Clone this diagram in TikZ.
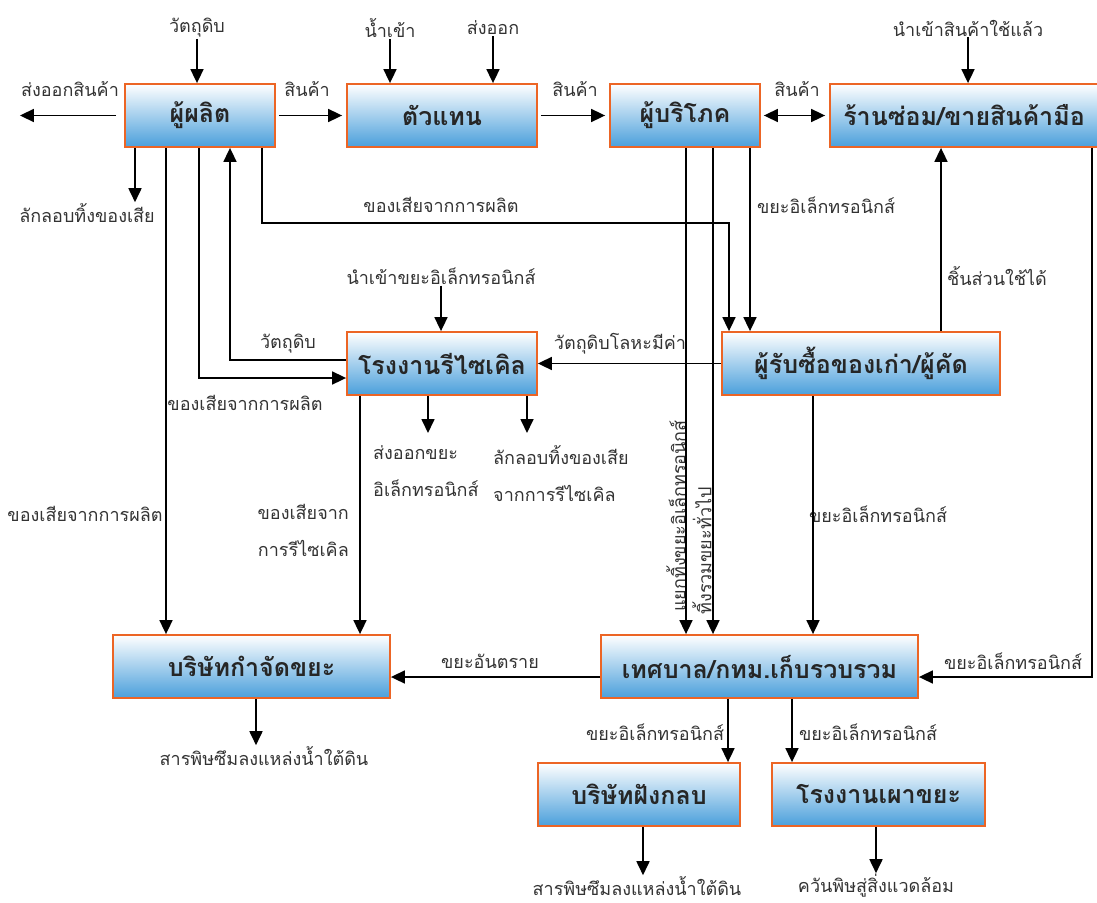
\documentclass[tikz,border=0pt]{standalone}
\usepackage{fontspec}
\setmainfont[Script=Thai]{Loma}
\usetikzlibrary{arrows.meta}

\definecolor{boxline}{HTML}{EC6525}
\definecolor{boxblue}{HTML}{4A9FDB}
\definecolor{labtext}{HTML}{333333}

\tikzset{
  box/.style={draw=boxline, line width=1.8pt, top color=white, bottom color=boxblue,
    minimum height=63pt, inner sep=0pt, text=black!85,
    font=\fontsize{25}{29}\selectfont\bfseries},
  lab/.style={font=\fontsize{18}{37}\selectfont, text=labtext, inner sep=1pt},
  arr/.style={line width=1.7pt, -{Triangle[length=14pt,width=13pt]}},
  darr/.style={line width=1.7pt, {Triangle[length=14pt,width=13pt]}-{Triangle[length=14pt,width=13pt]}},
}

\begin{document}
\begin{tikzpicture}[x=1pt,y=-1pt]
  \useasboundingbox (0,0) rectangle (1097,902);

  % 方框
  \node[box, minimum width=150pt] (prod)  at (200,115.5) {ผู้ผลิต};
  \node[box, minimum width=190pt] (agent) at (442,115.5) {ตัวแทน};
  \node[box, minimum width=150pt] (cons)  at (685,115.5) {ผู้บริโภค};
  \node[box, minimum width=268pt] (shop)  at (964,115.5) {ร้านซ่อม/ขายสินค้ามือ};
  \node[box, minimum width=190pt] (recyc) at (442,363.5) {โรงงานรีไซเคิล};
  \node[box, minimum width=278pt] (buyer) at (861,363.5) {ผู้รับซื้อของเก่า/ผู้คัด};
  \node[box, minimum width=277pt] (dispo) at (251.5,666.5) {บริษัทกำจัดขยะ};
  \node[box, minimum width=317pt] (muni)  at (759.5,666.5) {เทศบาล/กทม.เก็บรวบรวม};
  \node[box, minimum width=202pt] (landf) at (639,794.5) {บริษัทฝังกลบ};
  \node[box, minimum width=213pt] (incin) at (878.5,794.5) {โรงงานเผาขยะ};

  % 标签
  \node[lab] (lraw)   at (197,28) {วัตถุดิบ};
  \node[lab] (limp)   at (390,28) {น้ำเข้า};
  \node[lab] (lexp)   at (493,28) {ส่งออก};
  \node[lab] (lused)  at (968,28) {นำเข้าสินค้าใช้แล้ว};
  \node[lab] (lexpg)  at (70,89) {ส่งออกสินค้า};
  \node[lab] (lgood1) at (307,89) {สินค้า};
  \node[lab] (lgood2) at (575,89) {สินค้า};
  \node[lab] (lgood3) at (797,89) {สินค้า};
  \node[lab] (ldump)  at (87,213) {ลักลอบทิ้งของเสีย};
  \node[lab] (lwaste1) at (441,205) {ของเสียจากการผลิต};
  \node[lab] (lew1)   at (826,205) {ขยะอิเล็กทรอนิกส์};
  \node[lab] (limpe)  at (441,276) {นำเข้าขยะอิเล็กทรอนิกส์};
  \node[lab] (lpart)  at (997,276) {ชิ้นส่วนใช้ได้};
  \node[lab] (lraw2)  at (288,344) {วัตถุดิบ};
  \node[lab] (lmetal) at (620,344) {วัตถุดิบโลหะมีค่า};
  \node[lab] (lwaste2) at (245,403) {ของเสียจากการผลิต};
  \node[lab, align=left, anchor=north west] (lexpe) at (372,444) {ส่งออกขยะ\\อิเล็กทรอนิกส์};
  \node[lab, align=left, anchor=north west] (ldump2) at (492,444) {ลักลอบทิ้งของเสีย\\จากการรีไซเคิล};
  \node[lab] (lwaste3) at (85,514) {ของเสียจากการผลิต};
  \node[lab, align=right, anchor=north east] (lwaste4) at (350,503) {ของเสียจาก\\การรีไซเคิล};
  \node[lab] (lew2)   at (878,514) {ขยะอิเล็กทรอนิกส์};
  \node[lab, rotate=90] (lsep) at (676,516) {แยกทิ้งขยะอิเล็กทรอนิกส์};
  \node[lab, rotate=90] (lmix) at (702,551) {ทิ้งรวมขยะทั่วไป};
  \node[lab] (lhaz)   at (490,661) {ขยะอันตราย};
  \node[lab] (lew3)   at (1013,661) {ขยะอิเล็กทรอนิกส์};
  \node[lab] (lew4)   at (655,732) {ขยะอิเล็กทรอนิกส์};
  \node[lab] (lew5)   at (868,732) {ขยะอิเล็กทรอนิกส์};
  \node[lab] (lseep1) at (264,756) {สารพิษซึมลงแหล่งน้ำใต้ดิน};
  \node[lab] (lseep2) at (637,886) {สารพิษซึมลงแหล่งน้ำใต้ดิน};
  \node[lab] (lsmoke) at (876,886) {ควันพิษสู่สิ่งแวดล้อม};

  % 上面一排
  \draw[arr] (lraw.south) -- (lraw.south |- prod.north);
  \draw[arr] (limp.south) -- (limp.south |- agent.north);
  \draw[arr] (lexp.south) -- (lexp.south |- agent.north);
  \draw[arr] (lused.south) -- (lused.south |- shop.north);
  \draw[arr, shorten <=8pt] (prod.west) -- (prod.west -| lexpg.west);
  \draw[arr, shorten <=3pt, shorten >=4pt] (prod.east) -- (agent.west);
  \draw[arr, shorten <=3pt, shorten >=4pt] (agent.east) -- (cons.west);
  \draw[darr, shorten <=3pt, shorten >=4pt] (cons.east) -- (shop.west);

  % 生产者
  \draw[arr] ([xshift=-65pt]prod.south) -- ([xshift=-65pt]prod.south |- ldump.north);
  \draw[arr] ([xshift=-34pt]prod.south) -- ([xshift=-34pt]prod.south |- dispo.north);
  \draw[arr] ([xshift=-1pt]prod.south) |- ([yshift=-14.5pt]recyc.west);
  \draw[arr] ([yshift=3.5pt]recyc.west) -| ([xshift=30pt]prod.south);
  \draw[arr] ([xshift=62pt]prod.south) -- ++(0,75) -| ([xshift=-132pt]buyer.north);

  % 消费者, 收购者
  \draw[arr] ([xshift=1pt]cons.south) -- ([xshift=1pt]cons.south |- muni.north);
  \draw[arr] ([xshift=28pt]cons.south) -- ([xshift=28pt]cons.south |- muni.north);
  \draw[arr] ([xshift=65pt]cons.south) -- ([xshift=65pt]cons.south |- buyer.north);
  \draw[arr] (limpe.south) -- (limpe.south |- recyc.north);
  \draw[arr] ([xshift=80pt]buyer.north) -- ([xshift=80pt]buyer.north |- shop.south);
  \draw[arr] (buyer.west) -- (recyc.east);
  \draw[arr] ([xshift=128pt]shop.south) |- ([yshift=-10.5pt]muni.east);
  \draw[arr] ([xshift=-48pt]buyer.south) -- ([xshift=-48pt]buyer.south |- muni.north);

  % 回收工厂
  \draw[arr, shorten >=11pt] ([xshift=-14pt]recyc.south) -- ([xshift=-14pt]recyc.south |- lexpe.north);
  \draw[arr, shorten >=11pt] ([xshift=85pt]recyc.south) -- ([xshift=85pt]recyc.south |- ldump2.north);
  \draw[arr] ([xshift=-82pt]recyc.south) -- ([xshift=-82pt]recyc.south |- dispo.north);

  % 下面
  \draw[arr] ([yshift=-10.5pt]muni.west) -- ([yshift=-10.5pt]muni.west -| dispo.east);
  \draw[arr] ([xshift=-31.5pt]muni.south) -- ([xshift=-31.5pt]muni.south |- landf.north);
  \draw[arr] ([xshift=32.5pt]muni.south) -- ([xshift=32.5pt]muni.south |- incin.north);
  \draw[arr] ([xshift=4.5pt]dispo.south) -- ([xshift=4.5pt]dispo.south |- lseep1.north);
  \draw[arr] ([xshift=4pt]landf.south) -- ([xshift=4pt]landf.south |- lseep2.north);
  \draw[arr] ([xshift=-2.5pt]incin.south) -- ([xshift=-2.5pt]incin.south |- lsmoke.north);
\end{tikzpicture}
\end{document}
